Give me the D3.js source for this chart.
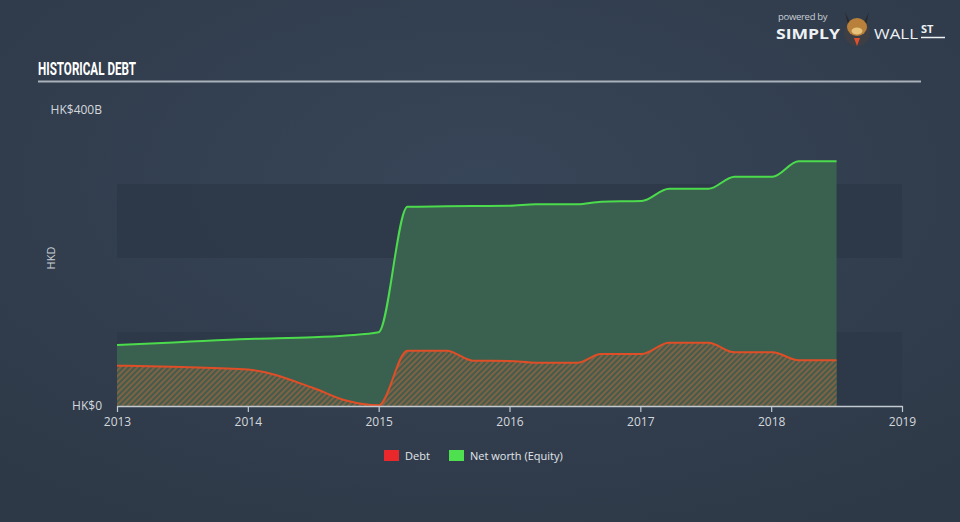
<!DOCTYPE html>
<html>
<head>
<meta charset="utf-8">
<script src="https://cdn.jsdelivr.net/npm/d3@7"></script>
<style>
  html, body { margin: 0; padding: 0; background: #333f4f; }
  svg { display: block; }
</style>
</head>
<body>
<div id="chart"></div>
<script>
// data (values in HK$ billions)
var dates = [2013.0, 2013.5, 2014.0, 2014.5, 2014.75, 2015.0, 2015.22, 2015.52, 2015.72, 2016.0,
             2016.2, 2016.52, 2016.7, 2017.01, 2017.22, 2017.52, 2017.72, 2018.01, 2018.21, 2018.5];
var equity = [82.4, 86.5, 90.5, 92.8, 95.3, 99.6, 269.3, 269.9, 270.3, 270.7,
              272.6, 272.6, 276.1, 277.0, 293.6, 293.6, 309.9, 309.9, 330.7, 330.7];
var debt = [54.5, 52.7, 49.3, 24.3, 7.4, 0.9, 74.7, 74.7, 61.2, 60.8,
            58.5, 58.5, 70.3, 70.3, 85.5, 85.5, 72.6, 72.6, 61.8, 61.8];
var yearTicks = [2013, 2014, 2015, 2016, 2017, 2018, 2019];
var yTickLabels = ["HK$0", "HK$400B"];
var legendNames = ["Debt", "Net worth (Equity)"];
var legendColors = ["#e8282b", "#4fe04f"];

var width = 960;
var height = 522;

var svg = d3.select("#chart")
  .append("svg")
  .attr("width", width)
  .attr("height", height);

var defs = svg.append("defs");

// background glow
var bg = defs.append("radialGradient")
  .attr("id", "bg")
  .attr("cx", "50%").attr("cy", "35%").attr("r", "75%");
bg.append("stop").attr("offset", "0%").attr("stop-color", "#374558");
bg.append("stop").attr("offset", "100%").attr("stop-color", "#2e3947");

// hatch for the debt area
var hatch = defs.append("pattern")
  .attr("id", "hatch")
  .attr("patternUnits", "userSpaceOnUse")
  .attr("width", 4)
  .attr("height", 4)
  .attr("patternTransform", "rotate(45)");
hatch.append("rect")
  .attr("width", 4).attr("height", 4)
  .attr("fill", "#435c4b");
hatch.append("line")
  .attr("x1", 1).attr("y1", 0).attr("x2", 1).attr("y2", 4)
  .attr("stroke", "#b8683e")
  .attr("stroke-width", 1.3)
  .attr("stroke-opacity", 0.8);

svg.append("rect")
  .attr("width", width)
  .attr("height", height)
  .attr("fill", "url(#bg)");

// scales
var x = d3.scaleLinear()
  .domain([2013, 2019])
  .range([117, 902]);

var y = d3.scaleLinear()
  .domain([0, 400])
  .range([406, 110]);

// alternating bands behind the plot
var bands = [[0, 100], [200, 300]];
svg.selectAll(".band")
  .data(bands)
  .enter()
  .append("rect")
  .attr("class", "band")
  .attr("x", x(2013))
  .attr("width", x(2019) - x(2013))
  .attr("y", function(d) { return y(d[1]); })
  .attr("height", function(d) { return y(d[0]) - y(d[1]); })
  .attr("fill", "#2c3747")
  .attr("opacity", 0.75);

// title and rule
svg.append("text")
  .attr("x", 38)
  .attr("y", 75)
  .attr("fill", "#ffffff")
  .attr("font-family", "'Liberation Sans Narrow', 'Roboto', sans-serif")
  .attr("font-weight", "bold")
  .attr("font-size", 19)
  .attr("textLength", 98)
  .attr("lengthAdjust", "spacingAndGlyphs")
  .text("HISTORICAL DEBT");

svg.append("line")
  .attr("x1", 38).attr("x2", 921)
  .attr("y1", 81.5).attr("y2", 81.5)
  .attr("stroke", "#a9b1ba")
  .attr("stroke-width", 2);

var rows = dates.map(function(d, i) {
  return { date: d, equity: equity[i], debt: debt[i] };
});

var curve = d3.curveMonotoneX;

// equity area + line
var equityArea = d3.area()
  .x(function(d) { return x(d.date); })
  .y0(y(0))
  .y1(function(d) { return y(d.equity); })
  .curve(curve);

var equityLine = d3.line()
  .x(function(d) { return x(d.date); })
  .y(function(d) { return y(d.equity); })
  .curve(curve);

svg.append("path")
  .datum(rows)
  .attr("d", equityArea)
  .attr("fill", "#3a614f");

// debt area + line
var debtArea = d3.area()
  .x(function(d) { return x(d.date); })
  .y0(y(0))
  .y1(function(d) { return y(d.debt); })
  .curve(curve);

var debtLine = d3.line()
  .x(function(d) { return x(d.date); })
  .y(function(d) { return y(d.debt); })
  .curve(curve);

svg.append("path")
  .datum(rows)
  .attr("d", debtArea)
  .attr("fill", "url(#hatch)");

svg.append("path")
  .datum(rows)
  .attr("d", equityLine)
  .attr("fill", "none")
  .attr("stroke", "#4cdb4c")
  .attr("stroke-width", 2);

svg.append("path")
  .datum(rows)
  .attr("d", debtLine)
  .attr("fill", "none")
  .attr("stroke", "#e04e27")
  .attr("stroke-width", 2);

// x axis
var xAxis = d3.axisBottom(x)
  .tickValues(yearTicks)
  .tickFormat(d3.format("d"))
  .tickSize(6)
  .tickSizeOuter(0);

var gx = svg.append("g")
  .attr("transform", "translate(0," + y(0) + ")")
  .call(xAxis);

gx.select(".domain")
  .attr("stroke", "#c3c9d0")
  .attr("stroke-width", 1.5);
gx.selectAll(".tick line")
  .attr("stroke", "#c3c9d0")
  .attr("stroke-width", 1.2);
gx.selectAll(".tick text")
  .attr("fill", "#d4d8dd")
  .attr("font-family", "'Open Sans', sans-serif")
  .attr("font-size", 12)
  .attr("dy", "0.9em");

// y labels (only min and max)
svg.selectAll(".ylabel")
  .data([0, 400])
  .enter()
  .append("text")
  .attr("class", "ylabel")
  .attr("x", 102)
  .attr("y", function(d) { return y(d); })
  .attr("dy", "0.35em")
  .attr("text-anchor", "end")
  .attr("fill", "#d4d8dd")
  .attr("font-family", "'Open Sans', sans-serif")
  .attr("font-size", 12)
  .text(function(d, i) { return yTickLabels[i]; });

svg.append("text")
  .attr("transform", "translate(51," + y(200) + ") rotate(-90)")
  .attr("text-anchor", "middle")
  .attr("dy", "0.35em")
  .attr("fill", "#c8cdd3")
  .attr("font-family", "'Open Sans', sans-serif")
  .attr("font-size", 11)
  .text("HKD");

// legend
var legendX = [384, 449];
var legend = svg.selectAll(".legend")
  .data(legendNames)
  .enter()
  .append("g")
  .attr("class", "legend")
  .attr("transform", function(d, i) { return "translate(" + legendX[i] + ",450)"; });

legend.append("rect")
  .attr("width", 15)
  .attr("height", 11)
  .attr("fill", function(d, i) { return legendColors[i]; });

legend.append("text")
  .attr("x", 21)
  .attr("y", 6)
  .attr("dy", "0.35em")
  .attr("fill", "#e2e6ea")
  .attr("font-family", "'Open Sans', sans-serif")
  .attr("font-size", 11)
  .text(function(d) { return d; });

// logo
var logo = svg.append("g");
logo.append("text")
  .attr("x", 778).attr("y", 20)
  .attr("fill", "#c9ced4")
  .attr("font-family", "'Open Sans', sans-serif")
  .attr("font-size", 9.5)
  .attr("letter-spacing", -0.3)
  .text("powered by");
logo.append("text")
  .attr("x", 776).attr("y", 39)
  .attr("fill", "#eef1f4")
  .attr("font-family", "'Open Sans', sans-serif")
  .attr("font-weight", "bold")
  .attr("font-size", 15)
  .attr("textLength", 64)
  .attr("lengthAdjust", "spacingAndGlyphs")
  .text("SIMPLY");
logo.append("text")
  .attr("x", 874).attr("y", 39)
  .attr("fill", "#eef1f4")
  .attr("font-family", "'Open Sans', sans-serif")
  .attr("font-size", 15)
  .attr("textLength", 44)
  .attr("lengthAdjust", "spacingAndGlyphs")
  .text("WALL");
logo.append("text")
  .attr("x", 921).attr("y", 33)
  .attr("fill", "#eef1f4")
  .attr("font-family", "'Open Sans', sans-serif")
  .attr("font-weight", "bold")
  .attr("font-size", 11)
  .text("ST");
logo.append("line")
  .attr("x1", 921).attr("x2", 945)
  .attr("y1", 37.5).attr("y2", 37.5)
  .attr("stroke", "#eef1f4")
  .attr("stroke-width", 1.5);
// bull badge
logo.append("circle")
  .attr("cx", 857).attr("cy", 33).attr("r", 13)
  .attr("fill", "#3d3f44");
logo.append("path")
  .attr("d", "M845,12 L850,22 L864,22 L869,12 L866,25 L848,25 Z")
  .attr("fill", "#2a2a2a");
logo.append("ellipse")
  .attr("cx", 857).attr("cy", 27).attr("rx", 10).attr("ry", 9)
  .attr("fill", "#b8803a");
logo.append("ellipse")
  .attr("cx", 857).attr("cy", 31).attr("rx", 5.5).attr("ry", 3.5)
  .attr("fill", "#e6c27a");
logo.append("path")
  .attr("d", "M854,38 L860,38 L857,46 Z")
  .attr("fill", "#e0502a");
</script>
</body>
</html>
